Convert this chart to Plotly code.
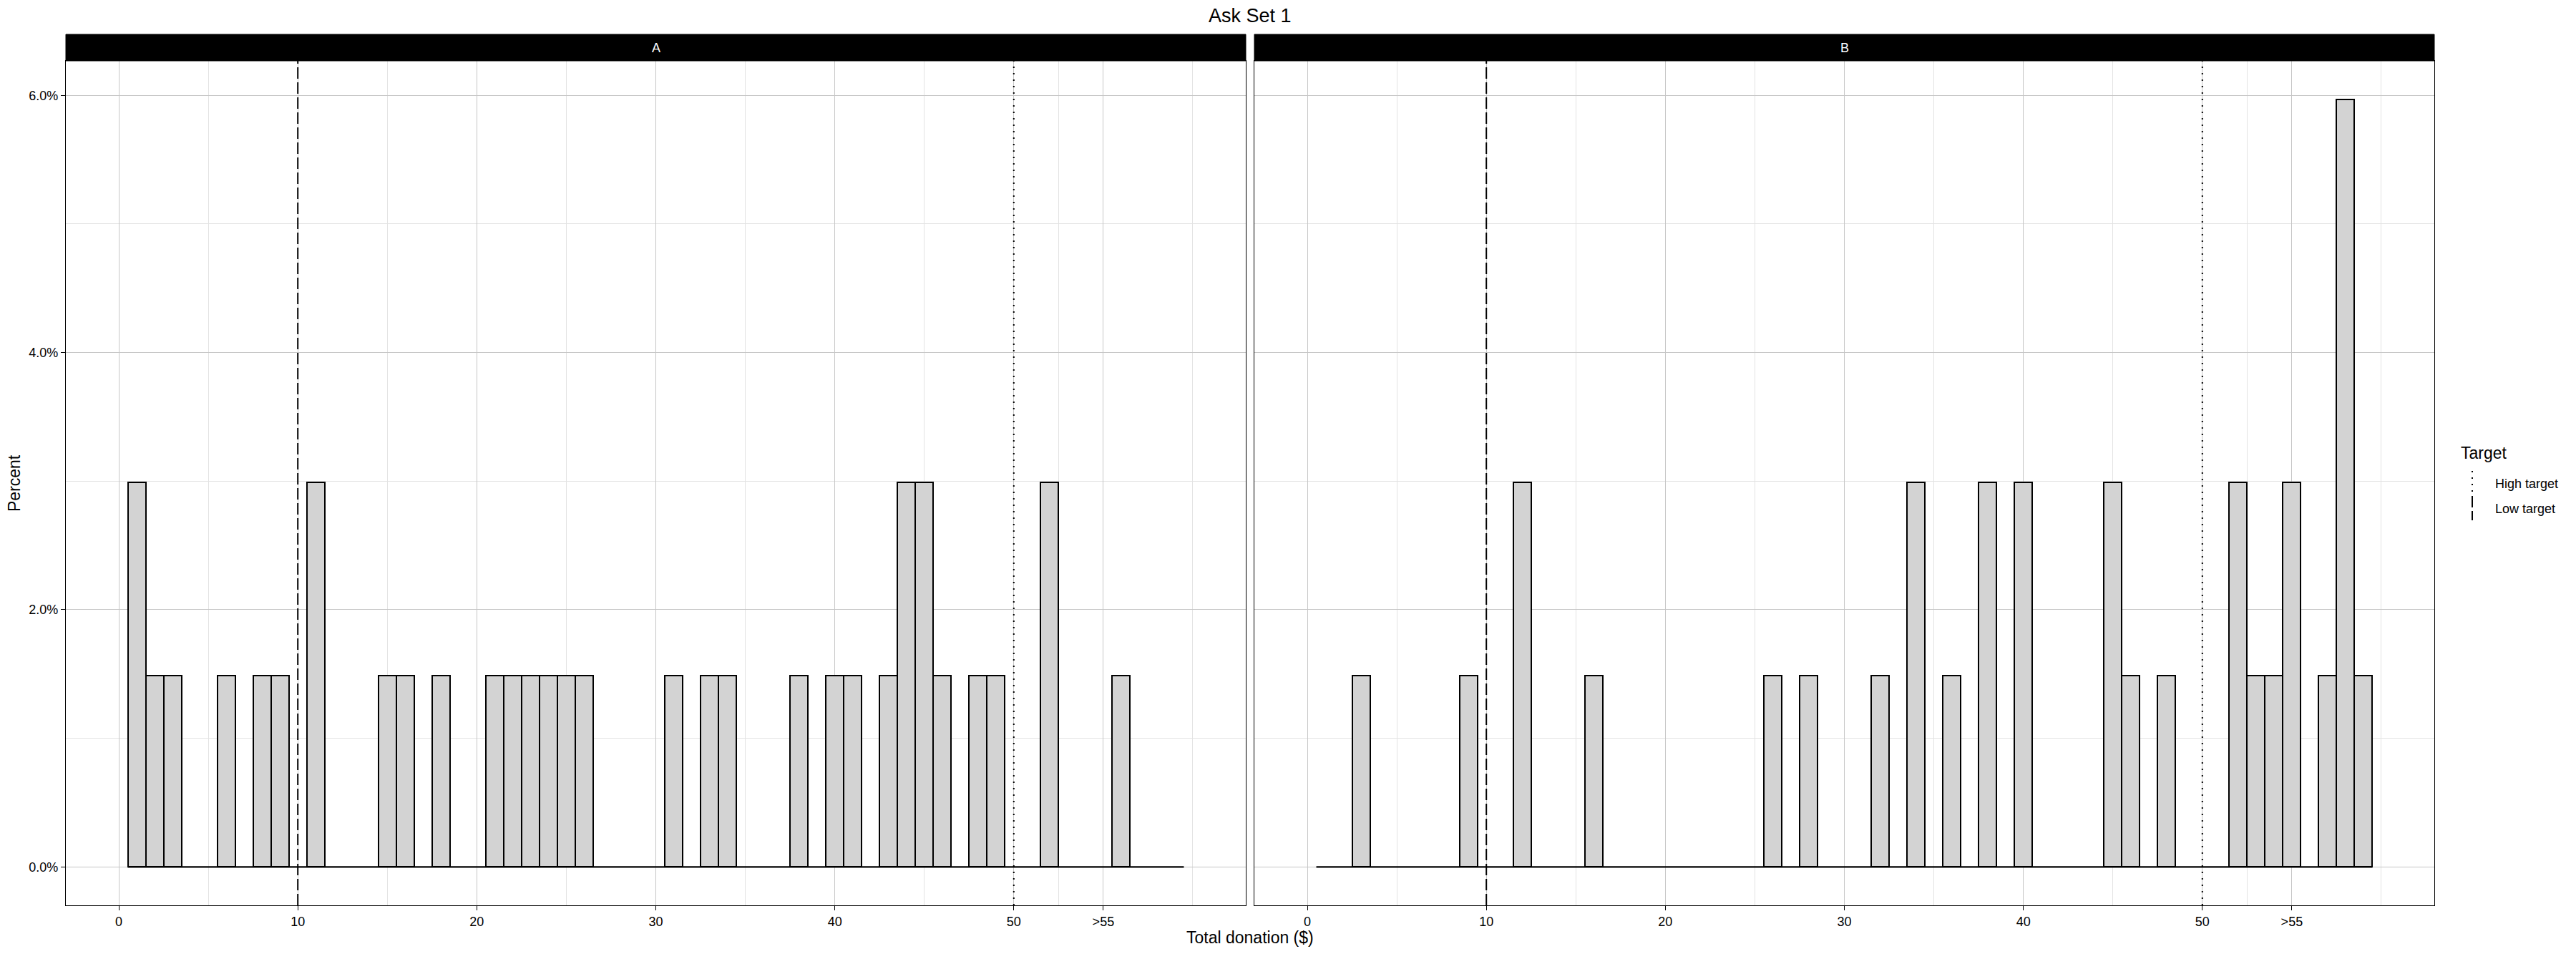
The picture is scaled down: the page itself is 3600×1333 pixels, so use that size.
import plotly.graph_objects as go

# ---------------- data ----------------
bins = list(range(1, 60))  # histogram bin centres (binwidth = 1)

a_x = [1, 2, 3, 6, 8, 9, 11, 15, 16, 18, 21, 22, 23, 24, 25, 26, 31, 33, 34, 38,
       40, 41, 43, 44, 45, 46, 48, 49, 52, 56]
a_pct = [2.99, 1.49, 1.49, 1.49, 1.49, 1.49, 2.99, 1.49, 1.49, 1.49, 1.49, 1.49, 1.49, 1.49, 1.49, 1.49, 1.49, 1.49, 1.49, 1.49,
         1.49, 1.49, 1.49, 2.99, 2.99, 1.49, 1.49, 1.49, 2.99, 1.49]

b_x = [3, 9, 12, 16, 26, 28, 32, 34, 36, 38, 40, 45, 46, 48, 52, 53, 54, 55, 57, 58, 59]
b_pct = [1.49, 1.49, 2.99, 1.49, 1.49, 1.49, 1.49, 2.99, 1.49, 2.99, 2.99, 2.99, 1.49, 1.49, 2.99, 1.49, 1.49, 2.99, 1.49, 5.97, 1.49]

panel_names = ["A", "B"]
target_names = ["High target", "Low target"]
target_values = [50, 10]
target_dash = ["2px,7px", "16px,5px"]

x_tickvals = [0, 10, 20, 30, 40, 50, 55]
x_ticktext = ["0", "10", "20", "30", "40", "50", ">55"]
x_minor = [5, 15, 25, 35, 45, 52.5, 60]
y_tickvals = [0, 2, 4, 6]
y_ticktext = ["0.0%", "2.0%", "4.0%", "6.0%"]
y_minor = [1, 3, 5]

title = "Ask Set 1"
x_title = "Total donation ($)"
y_title = "Percent"
legend_title = "Target"

# ---------------- layout geometry ----------------
W, H = 3600, 1333
L, R, T, B = 92, 198, 48, 68
PW = W - L - R
PH = H - T - B
strip_h = 37
FONT = "Liberation Sans, Arial, sans-serif"


def px_x(px):
    return (px - L) / PW


def px_y(py):
    return (H - B - py) / PH


gap = 12 / PW
dom_a = [0, 0.5 - gap / 2]
dom_b = [0.5 + gap / 2, 1]
ytop = px_y(T + strip_h)

xr = [-2.96, 62.96]
yr = [-0.2985, 6.2685]

fig = go.Figure()

series = [(a_x, a_pct), (b_x, b_pct)]
axes = [("x", "y"), ("x2", "y2")]
for (xs, ys), (xa, ya) in zip(series, axes):
    fig.add_trace(go.Bar(
        x=xs, y=ys, width=1, xaxis=xa, yaxis=ya,
        marker=dict(color="#D3D3D3", line=dict(color="black", width=2)),
        showlegend=False, hoverinfo="x+y",
    ))
    fig.add_trace(go.Scatter(
        x=[bins[0] - 0.5, bins[-1] + 0.5], y=[0, 0], mode="lines",
        line=dict(color="black", width=2.2), xaxis=xa, yaxis=ya,
        showlegend=False, hoverinfo="skip",
    ))

grid_major = "#c6c6c6"
grid_minor = "#e3e3e3"

xaxis_common = dict(
    range=xr, tickmode="array", tickvals=x_tickvals, ticktext=x_ticktext,
    showgrid=True, gridcolor=grid_major, gridwidth=1,
    minor=dict(tickvals=x_minor, showgrid=True, gridcolor=grid_minor, gridwidth=1, ticks=""),
    zeroline=False, showline=True, mirror=True, linecolor="black", linewidth=1.4,
    ticks="outside", ticklen=6, tickwidth=1.4, tickcolor="black",
    tickfont=dict(family=FONT, size=18, color="black"),
    anchor=None,
)
yaxis_common = dict(
    range=yr, tickmode="array", tickvals=y_tickvals, ticktext=y_ticktext,
    showgrid=True, gridcolor=grid_major, gridwidth=1,
    minor=dict(tickvals=y_minor, showgrid=True, gridcolor=grid_minor, gridwidth=1, ticks=""),
    zeroline=False, showline=True, mirror=True, linecolor="black", linewidth=1.4,
    tickfont=dict(family=FONT, size=18, color="black"),
    domain=[0, ytop],
)

fig.update_layout(
    xaxis=dict(xaxis_common, domain=dom_a, anchor="y"),
    xaxis2=dict(xaxis_common, domain=dom_b, anchor="y2"),
    yaxis=dict(yaxis_common, anchor="x", ticks="outside", ticklen=6, tickwidth=1.4, tickcolor="black"),
    yaxis2=dict(yaxis_common, anchor="x2", showticklabels=False, ticks=""),
)

shapes = []
annotations = []

# facet strips
for name, xa in zip(panel_names, ["x", "x2"]):
    shapes.append(dict(type="rect", xref=f"{xa} domain", yref="paper",
                       x0=0, x1=1, y0=ytop, y1=1, fillcolor="black",
                       line=dict(color="black", width=1), layer="above"))
    annotations.append(dict(text=name, xref=f"{xa} domain", yref="paper",
                            x=0.5, y=(ytop + 1) / 2, showarrow=False,
                            font=dict(family=FONT, size=18, color="white"),
                            xanchor="center", yanchor="middle"))

# target lines
for xa, ya in axes:
    for v, d in zip(target_values, target_dash):
        shapes.append(dict(type="line", xref=xa, yref=f"{ya} domain",
                           x0=v, x1=v, y0=0, y1=1,
                           line=dict(color="black", width=2, dash=d), layer="above"))

# titles
annotations.append(dict(text=title, xref="paper", yref="paper", x=0.5, y=px_y(22),
                        showarrow=False, xanchor="center", yanchor="middle",
                        font=dict(family=FONT, size=27, color="black")))
annotations.append(dict(text=x_title, xref="paper", yref="paper", x=0.5, y=px_y(1310),
                        showarrow=False, xanchor="center", yanchor="middle",
                        font=dict(family=FONT, size=23, color="black")))
annotations.append(dict(text=y_title, xref="paper", yref="paper", x=px_x(20), y=px_y(675),
                        showarrow=False, xanchor="center", yanchor="middle", textangle=-90,
                        font=dict(family=FONT, size=23, color="black")))

# custom legend (vertical key glyphs)
annotations.append(dict(text=legend_title, xref="paper", yref="paper", x=px_x(3437), y=px_y(633),
                        showarrow=False, xanchor="left", yanchor="middle",
                        font=dict(family=FONT, size=23, color="black")))
key_top = 658
key_h = 35
for i, (name, d) in enumerate(zip(target_names, target_dash)):
    y0 = key_top + i * key_h
    shapes.append(dict(type="line", xref="paper", yref="paper",
                       x0=px_x(3455), x1=px_x(3455), y0=px_y(y0), y1=px_y(y0 + key_h - 1),
                       line=dict(color="black", width=2, dash=d)))
    annotations.append(dict(text=name, xref="paper", yref="paper", x=px_x(3485),
                            y=px_y(y0 + key_h / 2), showarrow=False,
                            xanchor="left", yanchor="middle",
                            font=dict(family=FONT, size=18, color="black")))

fig.update_layout(
    width=W, height=H, autosize=False,
    margin=dict(l=L, r=R, t=T, b=B, pad=0),
    paper_bgcolor="white", plot_bgcolor="white",
    shapes=shapes, annotations=annotations,
    showlegend=False, bargap=0,
    font=dict(family=FONT, color="black"),
)

fig.write_html("out.html")
